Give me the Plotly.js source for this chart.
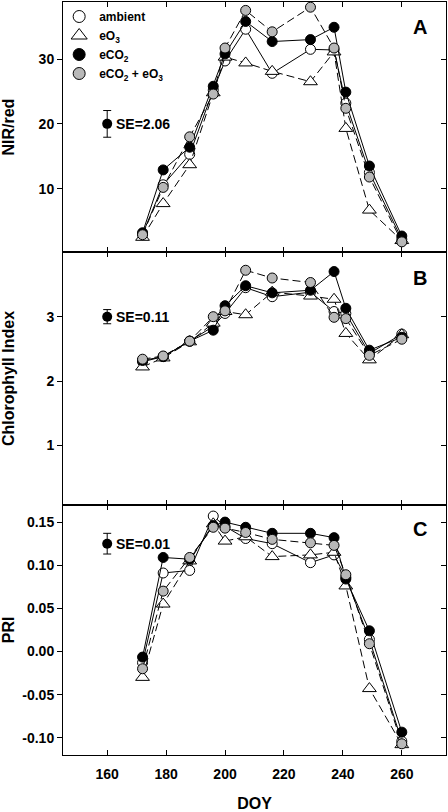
<!DOCTYPE html>
<html>
<head>
<meta charset="utf-8">
<script src="https://cdn.plot.ly/plotly-3.0.1.min.js"></script>
<style>html,body{margin:0;padding:0;background:#fff}#chart{width:448px;height:812px}</style>
</head>
<body>
<div id="chart"></div>
<script>
const doy = [172, 179, 188, 196, 200, 207, 216, 229, 237, 241, 249, 260];

const nirAmbient = [3.0, 10.6, 15.3, 25.2, 29.7, 34.6, 27.8, 31.5, 31.4, 23.2, 12.5, 2.2];
const nirEO3     = [2.5, 7.7, 13.7, 24.8, 30.3, 29.4, 28.1, 26.5, 31.1, 19.3, 6.7, 2.0];
const nirECO2    = [3.2, 12.9, 16.4, 25.8, 30.8, 35.8, 32.7, 33.0, 34.9, 24.9, 13.5, 2.7];
const nirBoth    = [2.9, 10.2, 18.0, 24.6, 31.7, 37.5, 34.2, 38.0, 31.7, 22.4, 11.8, 1.8];

const chlAmbient = [2.30, 2.38, 2.62, 2.85, 3.05, 3.45, 3.31, 3.38, 3.08, 3.05, 2.43, 2.73];
const chlEO3     = [2.22, 2.36, 2.61, 2.90, 3.08, 3.03, 3.38, 3.32, 3.27, 2.74, 2.33, 2.72];
const chlECO2    = [2.32, 2.38, 2.62, 2.79, 3.17, 3.48, 3.37, 3.41, 3.70, 3.13, 2.48, 2.68];
const chlBoth    = [2.34, 2.39, 2.62, 3.00, 3.09, 3.72, 3.60, 3.53, 2.99, 2.97, 2.40, 2.65];

const priAmbient = [-0.013, 0.091, 0.094, 0.157, 0.145, 0.131, 0.125, 0.103, 0.112, 0.086, 0.014, -0.104];
const priEO3     = [-0.030, 0.055, 0.105, 0.148, 0.128, 0.133, 0.110, 0.112, 0.115, 0.076, -0.043, -0.108];
const priECO2    = [-0.0065, 0.109, 0.107, 0.146, 0.150, 0.144, 0.137, 0.137, 0.132, 0.084, 0.024, -0.0935];
const priBoth    = [-0.020, 0.070, 0.109, 0.144, 0.143, 0.138, 0.130, 0.126, 0.123, 0.089, 0.009, -0.107];

const seDoy = [160];
const seCenters = [20, 3.0, 0.125];
const seValues = [2.06, 0.11, 0.012];
const seLabels = ['SE=2.06', 'SE=0.11', 'SE=0.01'];
const panelLetters = ['A', 'B', 'C'];
const seriesNames = ['ambient', 'eO<sub>3</sub>', 'eCO<sub>2</sub>', 'eCO<sub>2</sub> + eO<sub>3</sub>'];
const xTicks = [160, 180, 200, 220, 240, 260];

const FONT = 'Arial, "Liberation Sans", sans-serif';
const GRAY = '#b8b8b8';
const styles = [
  {symbol: 'circle', color: '#ffffff', dash: 'solid', size: 10},
  {symbol: 'triangle-up', color: '#ffffff', dash: '8px,4px', size: 12},
  {symbol: 'circle', color: '#000000', dash: 'solid', size: 10},
  {symbol: 'circle', color: GRAY, dash: '8px,4px', size: 10}
];

const panels = [
  {ys: [nirAmbient, nirEO3, nirECO2, nirBoth], xa: 'x', ya: 'y'},
  {ys: [chlAmbient, chlEO3, chlECO2, chlBoth], xa: 'x2', ya: 'y2'},
  {ys: [priAmbient, priEO3, priECO2, priBoth], xa: 'x3', ya: 'y3'}
];

const traces = [];
panels.forEach((p, pi) => {
  p.ys.forEach((vals, si) => {
    const s = styles[si];
    traces.push({
      type: 'scatter', mode: 'lines+markers', x: doy, y: vals,
      xaxis: p.xa, yaxis: p.ya, showlegend: false, hoverinfo: 'skip',
      line: {color: '#000', width: 1, dash: s.dash},
      marker: {symbol: s.symbol, size: s.size, color: s.color, line: {color: '#000', width: 1}}
    });
  });
  traces.push({
    type: 'scatter', mode: 'markers', x: seDoy, y: [seCenters[pi]],
    xaxis: p.xa, yaxis: p.ya, showlegend: false, hoverinfo: 'skip',
    marker: {symbol: 'circle', size: 10, color: '#000'},
    error_y: {type: 'data', array: [seValues[pi]], visible: true, color: '#000', thickness: 1, width: 4}
  });
});
// legend entries (markers only)
styles.forEach((s, si) => {
  traces.push({
    type: 'scatter', mode: 'markers', x: [null], y: [null], xaxis: 'x', yaxis: 'y',
    name: seriesNames[si], showlegend: true,
    marker: {symbol: s.symbol, size: s.size + 2, color: s.color, line: {color: '#000', width: 1}}
  });
});

const xBase = {
  range: [145, 275], tickvals: xTicks, ticks: 'inside', ticklen: 5, tickcolor: '#000',
  showline: true, linecolor: '#000', linewidth: 1, mirror: 'ticks',
  showgrid: false, zeroline: false,
  tickfont: {family: FONT, size: 14, color: '#000', weight: 'bold'}
};
const yBase = {
  ticks: 'outside', ticklen: 5, tickcolor: '#000',
  showline: true, linecolor: '#000', linewidth: 1, mirror: true,
  showgrid: false, zeroline: false,
  tickfont: {family: FONT, size: 14, color: '#000', weight: 'bold'},
  title: {font: {family: FONT, size: 16, color: '#000', weight: 'bold'}}
};
const rightBase = {
  side: 'right', ticks: 'inside', ticklen: 5, tickcolor: '#000', showticklabels: false,
  showline: false, showgrid: false, zeroline: false
};

const rA = [0.2, 38.8], rB = [0.08, 4.0], rC = [-0.12, 0.17];
const tvA = [10, 20, 30], tvB = [1, 2, 3], tvC = [-0.10, -0.05, 0.00, 0.05, 0.10, 0.15];
const ttC = ['-0.10', '-0.05', '0.00', '0.05', '0.10', '0.15'];

const annotations = [];
panels.forEach((p, pi) => {
  annotations.push({
    xref: p.xa, yref: p.ya, x: 162.2, y: seCenters[pi], text: seLabels[pi],
    showarrow: false, xanchor: 'left', yanchor: 'middle',
    font: {family: FONT, size: 14, color: '#000', weight: 'bold'}
  });
});
const letterY = [34.9, 3.6, 0.1417];
panels.forEach((p, pi) => {
  annotations.push({
    xref: p.xa, yref: p.ya, x: 266.3, y: letterY[pi], text: panelLetters[pi],
    showarrow: false, xanchor: 'center', yanchor: 'middle',
    font: {family: FONT, size: 20, color: '#000', weight: 'bold'}
  });
});

const layout = {
  width: 448, height: 812,
  margin: {l: 63, r: 2, t: 2, b: 57},
  paper_bgcolor: '#fff', plot_bgcolor: '#fff',
  font: {family: FONT, color: '#000'},
  showlegend: true,
  legend: {
    x: -0.01, y: 1.0, xanchor: 'left', yanchor: 'top',
    bgcolor: 'rgba(0,0,0,0)', borderwidth: 0, tracegroupgap: 0,
    font: {family: FONT, size: 12, color: '#000', weight: 'bold'}
  },
  xaxis: Object.assign({}, xBase, {anchor: 'y', showticklabels: false}),
  xaxis2: Object.assign({}, xBase, {anchor: 'y2', showticklabels: false}),
  xaxis3: Object.assign({}, xBase, {anchor: 'y3', showticklabels: true, ticklabelstandoff: 6,
    title: {text: 'DOY', standoff: 17, font: {family: FONT, size: 16, color: '#000', weight: 'bold'}}}),
  yaxis: Object.assign({}, yBase, {domain: [0.6677, 1], range: rA, tickvals: tvA, anchor: 'x',
    title: {text: 'NIR/red', standoff: 20, font: yBase.title.font}}),
  yaxis2: Object.assign({}, yBase, {domain: [0.3322, 0.6677], range: rB, tickvals: tvB, anchor: 'x2',
    title: {text: 'Chlorophyll Index', standoff: 35, font: yBase.title.font}}),
  yaxis3: Object.assign({}, yBase, {domain: [0, 0.3322], range: rC, tickvals: tvC, ticktext: ttC, anchor: 'x3',
    title: {text: 'PRI', standoff: 10, font: yBase.title.font}}),
  yaxis4: Object.assign({}, rightBase, {overlaying: 'y', anchor: 'x', range: rA, tickvals: tvA}),
  yaxis5: Object.assign({}, rightBase, {overlaying: 'y2', anchor: 'x2', range: rB, tickvals: tvB}),
  yaxis6: Object.assign({}, rightBase, {overlaying: 'y3', anchor: 'x3', range: rC, tickvals: tvC}),
  annotations: annotations
};

// dummy traces to activate right overlay axes
[['x', 'y4', rA], ['x2', 'y5', rB], ['x3', 'y6', rC]].forEach(a => {
  traces.push({type: 'scatter', mode: 'markers', x: [null], y: [null], xaxis: a[0], yaxis: a[1], showlegend: false, hoverinfo: 'skip'});
});

Plotly.newPlot('chart', traces, layout, {staticPlot: true, displayModeBar: false});
</script>
</body>
</html>
